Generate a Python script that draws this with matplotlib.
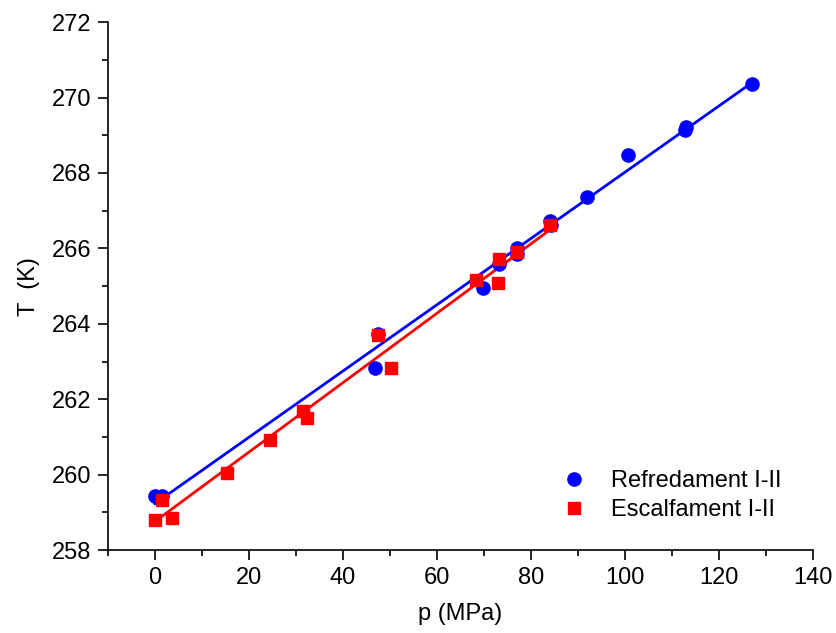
import numpy as np
import matplotlib
matplotlib.use("Agg")
import matplotlib.pyplot as plt
from matplotlib.ticker import MultipleLocator

plt.rcParams['font.family'] = ['Liberation Sans', 'DejaVu Sans']

# Refredament I-II (blue circles)
p_ref = [0.0, 1.5, 46.8, 47.4, 69.8, 73.2, 77.0, 77.0, 84.0, 84.2, 91.9, 100.6, 112.8, 113.0, 127.0]
T_ref = [259.43, 259.43, 262.83, 263.73, 264.95, 265.58, 266.00, 265.85, 266.72, 266.62, 267.36, 268.48, 269.14, 269.22, 270.36]

# Escalfament I-II (red squares)
p_esc = [0.0, 3.6, 1.5, 15.3, 24.5, 31.5, 32.3, 47.4, 50.2, 68.3, 73.0, 73.2, 77.0, 84.0]
T_esc = [258.80, 258.85, 259.33, 260.04, 260.92, 261.70, 261.50, 263.70, 262.82, 265.16, 265.08, 265.72, 265.90, 266.62]

fig = plt.figure(figsize=(8.36, 6.33), dpi=100)
ax = fig.add_axes([0.129, 0.131, 0.8435, 0.834])

# fit lines
for p, T, c in [(p_ref, T_ref, 'blue'), (p_esc, T_esc, 'red')]:
    k, b = np.polyfit(p, T, 1)
    xs = np.array([min(p), max(p)])
    ax.plot(xs, k * xs + b, color=c, lw=2, zorder=2)

ax.plot(p_ref, T_ref, 'o', color='blue', ms=9.5, mec='blue', label='Refredament I-II', zorder=3)
ax.plot(p_esc, T_esc, 's', color='red', ms=8.5, mec='red', label='Escalfament I-II', zorder=3)

ax.set_xlim(-10, 140)
ax.set_ylim(258, 272)
ax.xaxis.set_major_locator(MultipleLocator(20))
ax.xaxis.set_minor_locator(MultipleLocator(10))
ax.yaxis.set_major_locator(MultipleLocator(2))
ax.yaxis.set_minor_locator(MultipleLocator(1))
ax.spines['top'].set_visible(False)
ax.spines['right'].set_visible(False)
for s in ['left', 'bottom']:
    ax.spines[s].set_linewidth(1.2)
ax.tick_params(which='major', direction='out', length=7, width=1.2, labelsize=17, pad=5)
ax.tick_params(which='minor', direction='out', length=4, width=1.2)

ax.set_xlabel('p (MPa)', fontsize=17, labelpad=10)
ax.set_ylabel('T  (K)', fontsize=17, labelpad=8)

ax.legend(loc='lower right', bbox_to_anchor=(0.985, 0.015), frameon=False, fontsize=17,
          handletextpad=0.8, labelspacing=0.3, handlelength=1.5, markerscale=1.0)

fig.savefig('out.png', dpi=100)
